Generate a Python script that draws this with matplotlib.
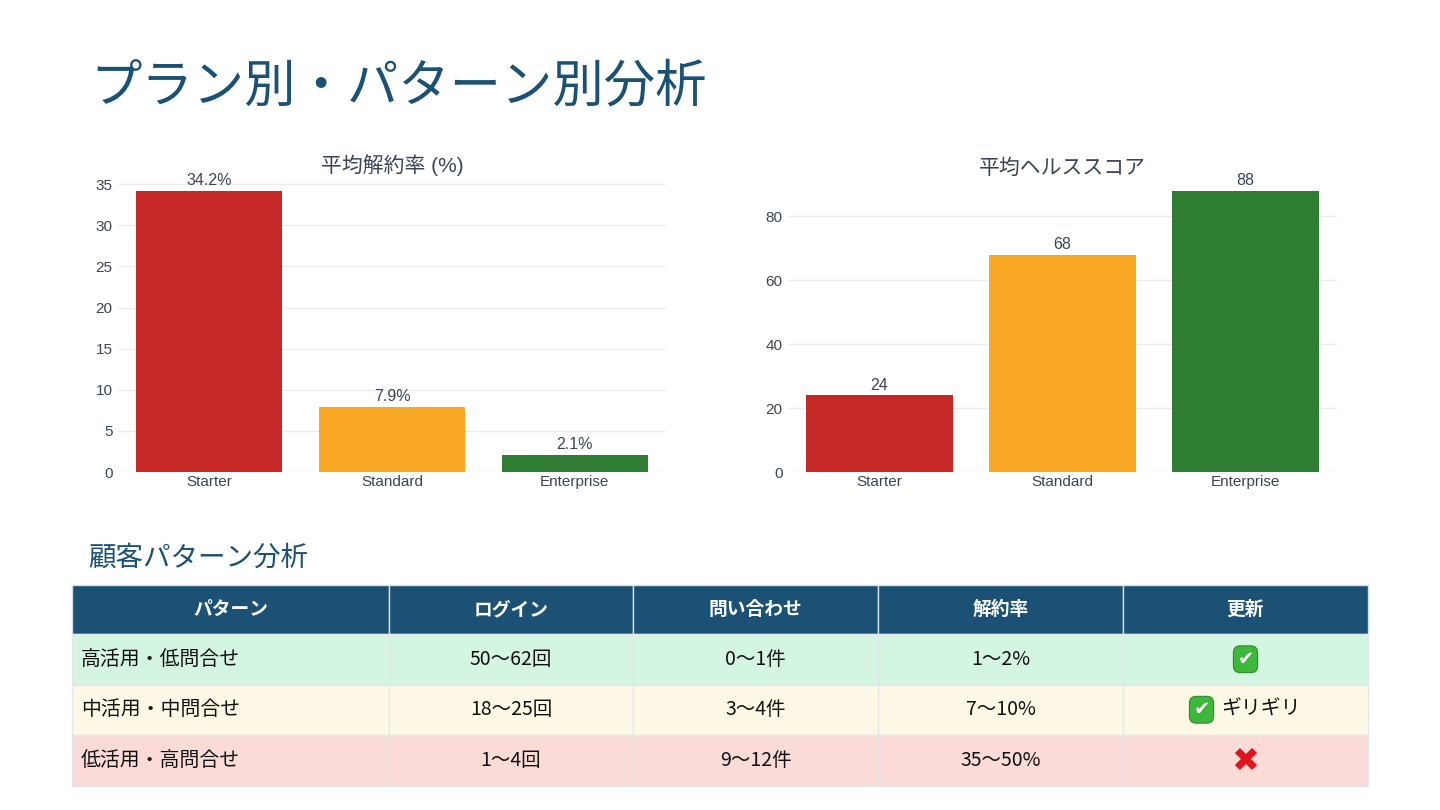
import matplotlib
matplotlib.use("Agg")
import matplotlib.pyplot as plt
from matplotlib.patches import Rectangle

# グラフ部分は Arial 系、日本語はフォールバック
plt.rcParams['font.family'] = ['Liberation Sans', 'Noto Sans CJK JP', 'DejaVu Sans']
JP = ['Noto Sans CJK JP', 'DejaVu Sans']

# データ
plans = ["Starter", "Standard", "Enterprise"]
churn_rate = [34.2, 7.9, 2.1]
health_score = [24, 68, 88]
plan_colors = ["#C62828", "#F9A825", "#2E7D32"]

table_header = ["パターン", "ログイン", "問い合わせ", "解約率", "更新"]
pattern_names = ["高活用・低問合せ", "中活用・中問合せ", "低活用・高問合せ"]
login_ranges = ["50〜62回", "18〜25回", "1〜4回"]
inquiry_ranges = ["0〜1件", "3〜4件", "9〜12件"]
churn_ranges = ["1〜2%", "7〜10%", "35〜50%"]
renewal = ["✅", "✅ ギリギリ", "❌"]
row_colors = ["#D5F5E3", "#FEF9E7", "#FADBD8"]

TITLE_COLOR = "#1B5175"
HEADER_COLOR = "#1B5174"
TICK_COLOR = "#3B4556"
W, H = 1440, 810


def px_axes(fig, x0, y0, x1, y1):
    # ピクセル座標(左上原点)で軸を作る
    return fig.add_axes([x0 / W, 1 - y1 / H, (x1 - x0) / W, (y1 - y0) / H])


def bar_panel(ax, values, title, ymax, yticks, fmt):
    bars = ax.bar(plans, values, width=0.8, color=plan_colors, zorder=2)
    ax.bar_label(bars, labels=[fmt.format(v) for v in values], padding=2,
                 fontsize=11.5, color=TICK_COLOR)
    ax.set_xlim(-0.5, 2.5)
    ax.set_ylim(0, ymax)
    ax.set_yticks(yticks)
    ax.grid(axis="y", color="#E9EDF3", linewidth=1, zorder=0)
    ax.set_axisbelow(True)
    for s in ax.spines.values():
        s.set_visible(False)
    ax.tick_params(length=0, labelsize=11, labelcolor=TICK_COLOR, pad=4)
    ax.tick_params(axis="x", pad=2)
    ax.set_title(title, fontsize=15, color=TICK_COLOR, pad=3)


fig = plt.figure(figsize=(14.4, 8.1), dpi=100)

fig.text(90 / W, 1 - 87 / H, "プラン別・パターン別分析", fontsize=37, family=JP,
         color=TITLE_COLOR, va="center", ha="left")

ax1 = px_axes(fig, 118, 176, 666, 472)
bar_panel(ax1, churn_rate, "平均解約率 (%)", 36, range(0, 36, 5), "{:.1f}%")

ax2 = px_axes(fig, 788, 178, 1337, 472)
bar_panel(ax2, health_score, "平均ヘルススコア", 92, range(0, 81, 20), "{:d}")

fig.text(88 / W, 1 - 558 / H, "顧客パターン分析", fontsize=19.8, family=JP,
         color=TITLE_COLOR, va="center", ha="left")

# 表
tab = fig.add_axes([0, 0, 1, 1])
tab.set_xlim(0, W)
tab.set_ylim(H, 0)
tab.axis("off")

col_edges = [72, 389, 633, 878, 1123, 1368]
header_top, header_h, row_h = 585, 49, 50.5
columns = [pattern_names, login_ranges, inquiry_ranges, churn_ranges, renewal]

for j, name in enumerate(table_header):
    x0, x1 = col_edges[j], col_edges[j + 1]
    tab.add_patch(Rectangle((x0, header_top), x1 - x0, header_h,
                            facecolor=HEADER_COLOR, edgecolor="#D6DEE6", lw=1))
    tab.text((x0 + x1) / 2, header_top + header_h / 2, name, color="white", family=JP,
             fontsize=13.5, fontweight="bold", ha="center", va="center")

for i in range(len(pattern_names)):
    y0 = header_top + header_h + i * row_h
    yc = y0 + row_h / 2
    for j, col in enumerate(columns):
        x0, x1 = col_edges[j], col_edges[j + 1]
        tab.add_patch(Rectangle((x0, y0), x1 - x0, row_h,
                                facecolor=row_colors[i], edgecolor="#E3E8EC", lw=1))
        val = col[i]
        if j == 0:
            tab.text(x0 + 9, yc, val, fontsize=14.3, family=JP, ha="left", va="center",
                     color="#111111")
        elif j == 4:
            xc = (x0 + x1) / 2
            if val.startswith("✅"):
                rest = val[1:].strip()
                cx = xc if not rest else xc - 44
                tab.text(cx, yc, "✔", color="white", fontsize=14, fontweight="bold",
                         family="DejaVu Sans", ha="center", va="center",
                         bbox=dict(boxstyle="round,pad=0.2,rounding_size=0.35",
                                   fc="#3DB83A", ec="#2E8B2E", lw=0.8))
                if rest:
                    tab.text(cx + 20, yc, rest, fontsize=14.3, family=JP, ha="left",
                             va="center", color="#111111")
            else:
                tab.text(xc, yc + 1, "✖", color="#E0141E", fontsize=24,
                         family="DejaVu Sans", ha="center", va="center")
        else:
            tab.text((x0 + x1) / 2, yc, val, fontsize=14, family=JP, ha="center",
                     va="center", color="#111111")

fig.savefig("out.png", dpi=100)
